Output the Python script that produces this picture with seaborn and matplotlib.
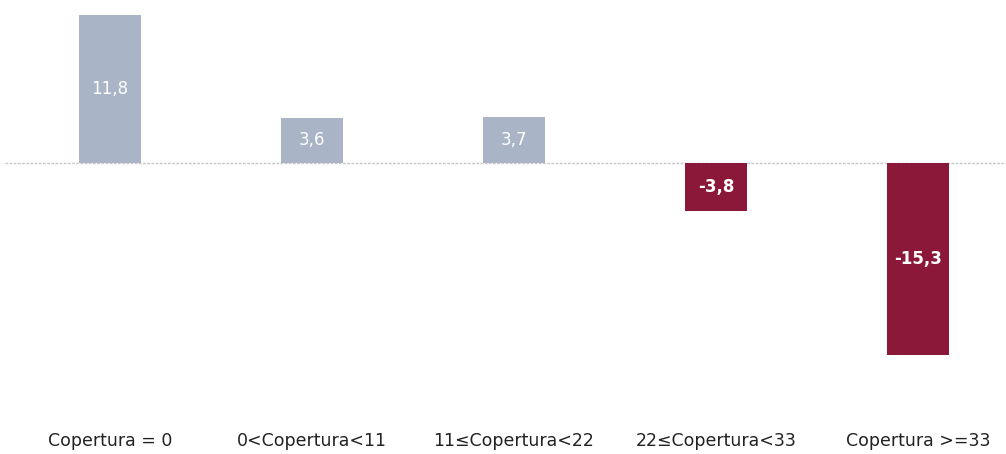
import matplotlib
matplotlib.use("Agg")
import matplotlib.pyplot as plt
import seaborn as sns
import pandas as pd

categories = ["Copertura = 0", "0<Copertura<11", "11≤Copertura<22", "22≤Copertura<33", "Copertura >=33"]
values = [11.8, 3.6, 3.7, -3.8, -15.3]
labels = ["11,8", "3,6", "3,7", "-3,8", "-15,3"]

POS = "#AAB4C7"
NEG = "#8C1839"

sns.set_theme(style="white")
plt.rcParams['font.family'] = ['DejaVu Sans']

fig = plt.figure(figsize=(10.06, 4.54), dpi=100)
ax = fig.add_axes([0, 29/454, 1, 425/454])

df = pd.DataFrame({"cat": categories, "val": values})
colors = [POS if v >= 0 else NEG for v in values]
sns.barplot(data=df, x="cat", y="val", hue="cat", palette=colors, legend=False,
            width=0.305, ax=ax, saturation=1, linewidth=0)

ax.set_xlim(-110/202, (1006-110)/202)
ax.set_ylim((163-425)/12.54, 163/12.54)
ax.axhline(0, xmin=5/1006, xmax=1, color="#c8c8c8", lw=1, ls=(0, (2, 1)), zorder=0.5)

for i, (v, lab) in enumerate(zip(values, labels)):
    ax.text(i, v/2, lab, ha="center", va="center", color="white",
            fontsize=12, fontweight="bold" if v < 0 else "normal")

for s in ax.spines.values():
    s.set_visible(False)
ax.set_yticks([])
ax.set_xlabel("")
ax.set_ylabel("")
ax.tick_params(axis="x", length=0, pad=5, labelsize=12.5, colors="#222222")

fig.savefig("out.png", dpi=100)
